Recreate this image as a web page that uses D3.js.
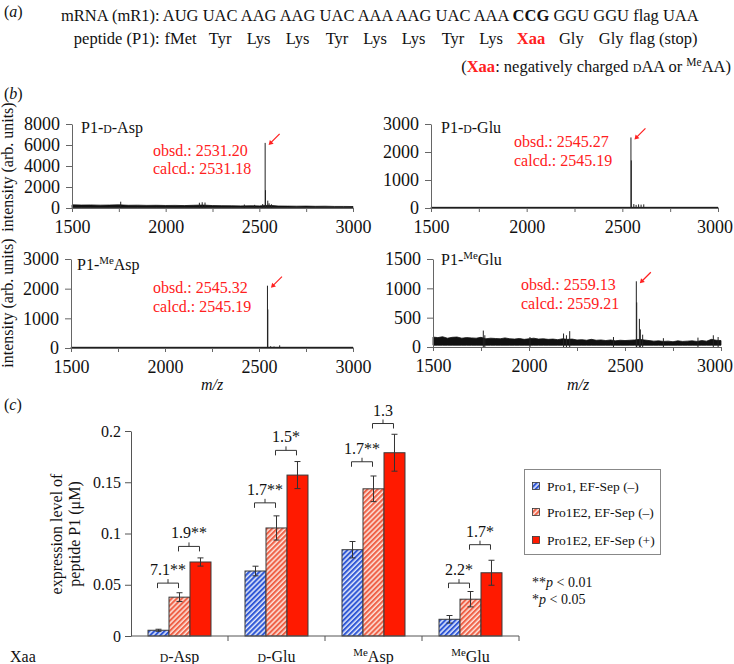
<!DOCTYPE html>
<html><head><meta charset="utf-8">
<script src="https://cdn.jsdelivr.net/npm/d3@7"></script>
<style>
body{margin:0;background:#fff}
svg{display:block}
text{font-family:"Liberation Serif","DejaVu Serif",serif;fill:#111}
</style>
</head><body>
<svg id="c" width="734" height="664"></svg>
<script>
// ================= DATA =================
// panel (a)
const codons = ["AUG","UAC","AAG","AAG","UAC","AAA","AAG","UAC","AAA","CCG","GGU","GGU","flag","UAA"];
const residues = ["fMet","Tyr","Lys","Lys","Tyr","Lys","Lys","Tyr","Lys","Xaa","Gly","Gly","flag (stop)"];
const xaaIndex = 9;

// panel (b) spectra
const mzTicks = [1500,1750,2000,2250,2500,2750,3000];
const mzLabels = [1500,2000,2500,3000];
const specTitleMod = ["D","D","Me","Me"];
const specTitleBase = ["-Asp","-Glu","Asp","Glu"];
const specModType = ["sc","sc","sup","sup"];
const obsdVals = ["2531.20","2545.27","2545.32","2559.13"];
const calcdVals = ["2531.18","2545.19","2545.19","2559.21"];
const specYMax = [8000,3000,3000,1500];
const specYTicks = [[0,2000,4000,6000,8000],[0,1000,2000,3000],[0,1000,2000,3000],[0,500,1000,1500]];

const gridCoarse = [1500,1750,2000,2250,2500,2750,3000];
const grid50 = [1500,1550,1600,1650,1700,1750,1800,1850,1900,1950,2000,2050,2100,2150,2200,2250,2300,2350,2400,2450,2500,2550,2600,2650,2700,2750,2800,2850,2900,2950,3000];
const grid25 = [1500,1525,1550,1575,1600,1625,1650,1675,1700,1725,1750,1775,1800,1825,1850,1875,1900,1925,1950,1975,2000,2025,2050,2075,2100,2125,2150,2175,2200,2225,2250,2275,2300,2325,2350,2375,2400,2425,2450,2475,2500,2525,2550,2575,2600,2625,2650,2675,2700,2725,2750,2775,2800,2825,2850,2875,2900,2925,2950,2975,3000];

const dAspNoise = [300,280,290,270,280,300,260,270,250,260,240,250,230,260,280,230,220,210,200,210,200,260,190,180,170,180,160,170,150,150,140];
const dGluNoise = [25,25,25,25,25,25,25];
const meAspNoise = [25,25,25,25,25,25,25];
const meGluNoise = [170,160,175,150,165,170,150,160,155,150,165,140,150,145,140,155,140,135,145,130,140,150,135,140,130,135,125,140,130,135,120,125,115,130,115,120,110,120,105,115,110,115,120,130,120,110,100,105,95,100,90,105,95,100,105,95,110,100,130,115,110];
const noiseFloor = [20,0,0,30];

const dAspPeaks = [[1760,600],[2180,500],[2195,550],[2210,520],[2420,330],[2475,300],[2518,380],[2531,6200],[2533,1700],[2545,700],[2552,450],[2565,350]];
const dGluPeaks = [[2545,2520],[2547,1700],[2560,140],[2572,110],[2585,130],[2598,120],[2612,130]];
const meAspPeaks = [[2545,2100],[2547,1300],[2562,60],[2580,50],[2610,90]];
const meGluPeaks = [[1762,280],[1770,200],[2005,170],[2180,230],[2195,200],[2212,270],[2440,170],[2559,1120],[2561,760],[2575,480],[2580,300],[2592,210],[2700,150],[2880,160],[2960,200],[2985,170]];
const mainPeak = [[2531,6200],[2545,2520],[2545,2100],[2559,1120]];

// panel (c) bar chart
const catMod = ["D","D","Me","Me"];
const catBase = ["-Asp","-Glu","Asp","Glu"];
const catModType = ["sc","sc","sup","sup"];
const seriesNames = ["Pro1, EF-Sep (\u2013)","Pro1E2, EF-Sep (\u2013)","Pro1E2, EF-Sep (+)"];
const pro1Vals   = [0.0056,0.0634,0.0842,0.0163];
const pro1Err    = [0.0010,0.0047,0.0080,0.0037];
const pro1E2Vals = [0.0379,0.1054,0.1436,0.0359];
const pro1E2Err  = [0.0043,0.0118,0.0125,0.0075];
const sepVals    = [0.0722,0.1570,0.1788,0.0617];
const sepErr     = [0.0040,0.0132,0.0180,0.0122];
const yTicksC = [0,0.05,0.1,0.15,0.2];
const bracketCat   = [0,0,1,1,2,2,3,3];
const bracketFrom  = [0,1,0,1,0,1,0,1];
const bracketLevel = [0.0516,0.0874,0.1299,0.1811,0.1700,0.2073,0.0516,0.0891];
const bracketText  = ["7.1**","1.9**","1.7**","1.5*","1.7**","1.3","2.2*","1.7*"];

// ================= DRAW =================
const svg = d3.select("#c");
const defs = svg.append("defs");
function hatch(id,bg,fg){
  const p = defs.append("pattern").attr("id",id).attr("patternUnits","userSpaceOnUse")
    .attr("width",3.6).attr("height",3.6).attr("patternTransform","rotate(45)");
  p.append("rect").attr("width",3.6).attr("height",3.6).attr("fill",bg);
  p.append("rect").attr("width",2.1).attr("height",3.6).attr("fill",fg);
}
hatch("hBlue","#e3e9fb","#3159d6");
hatch("hPink","#fde3dc","#ef6248");
const fills = ["url(#hBlue)","url(#hPink)","#ff1a00"];
const RED = "#ff2020";

function modText(sel, mod, type, size){
  if(type==="sc") sel.append("tspan").style("font-size",(size*0.74)+"px").text(mod);
  else {
    sel.append("tspan").attr("dy",-size*0.38).style("font-size",(size*0.68)+"px").text(mod);
  }
}
function afterMod(sel, txt, type, size){
  const t = sel.append("tspan").text(txt);
  if(type==="sup") t.attr("dy",size*0.38);
}

// ---- panel labels
function panelLabel(x,y,l){
  const t = svg.append("text").attr("x",x).attr("y",y).style("font-size","16px");
  t.append("tspan").text("(");
  t.append("tspan").style("font-style","italic").text(l);
  t.append("tspan").text(")");
}
panelLabel(4,17,"a");
panelLabel(4,99,"b");
panelLabel(4,410,"c");

// ---- panel (a)
const FA = 16.5;
const t1 = svg.append("text").attr("x",61).attr("y",21).style("font-size",FA+"px").style("white-space","pre");
const head1 = t1.append("tspan").text("mRNA (mR1):");
t1.append("tspan").text(" ");
const codonSpans = codons.map((c,i)=>{
  const s = t1.append("tspan").text(c);
  if(i===xaaIndex) s.style("font-weight","bold");
  if(i<codons.length-1) t1.append("tspan").text(" ");
  return s;
});
const centers = codonSpans.map(s=>{
  const n = s.node();
  return n.getStartPositionOfChar(0).x + n.getComputedTextLength()/2;
});
const headEnd = head1.node().getStartPositionOfChar(0).x + head1.node().getComputedTextLength();
svg.append("text").attr("x",headEnd).attr("y",44).attr("text-anchor","end").style("font-size",FA+"px").text("peptide (P1):");
residues.forEach((r,i)=>{
  const cx = i<12 ? centers[i] : (centers[12]+centers[13])/2;
  const t = svg.append("text").attr("x",cx).attr("y",44).attr("text-anchor","middle").style("font-size",FA+"px").text(r);
  if(i===xaaIndex) t.style("font-weight","bold").style("fill",RED);
});
{
  const t = svg.append("text").attr("x",731).attr("y",72).attr("text-anchor","end").style("font-size",FA+"px").style("white-space","pre");
  t.append("tspan").text("(");
  t.append("tspan").style("font-weight","bold").style("fill",RED).text("Xaa");
  t.append("tspan").text(": negatively charged ");
  t.append("tspan").style("font-size","12px").text("D");
  t.append("tspan").text("AA or ");
  t.append("tspan").attr("dy",-6).style("font-size","11.5px").text("Me");
  t.append("tspan").attr("dy",6).text("AA)");
}

// ---- panel (b)
const specLayout = [
  {x0:72,x1:353,yb:208,yt:124,tx:81,ty:133,ax:81,ay:31.7},
  {x0:431,x1:718,yb:208,yt:124,tx:441,ty:133,ax:83,ay:23.3},
  {x0:71,x1:353,yb:348,yt:259,tx:77,ty:270,ax:82,ay:34.3},
  {x0:433,x1:721,yb:347,yt:259,tx:441,ty:265,ax:88,ay:31}
];
const specNoise = [[grid50,dAspNoise],[gridCoarse,dGluNoise],[gridCoarse,meAspNoise],[grid25,meGluNoise]];
const specPeaks = [dAspPeaks,dGluPeaks,meAspPeaks,meGluPeaks];

specLayout.forEach((L,k)=>{
  const g = svg.append("g");
  const x = d3.scaleLinear().domain([1500,3000]).range([L.x0,L.x1]);
  const y = d3.scaleLinear().domain([0,specYMax[k]]).range([L.yb,L.yt]);
  // noise band
  const [gx,gv] = specNoise[k];
  const pts = gx.map((m,i)=>[m,gv[i]]);
  g.append("path").datum(pts)
    .attr("d", d3.area().x(d=>x(d[0])).y0(y(noiseFloor[k])).y1(d=>y(d[1])))
    .attr("fill","#111").attr("stroke","#111").attr("stroke-width",0.8);
  // peaks
  g.selectAll("line.pk").data(specPeaks[k]).join("line")
    .attr("x1",d=>x(d[0])).attr("x2",d=>x(d[0]))
    .attr("y1",y(0)).attr("y2",d=>y(d[1]))
    .attr("stroke","#222").attr("stroke-width",1);
  // axes
  const ax = g.append("g").attr("transform",`translate(0,${L.yb})`)
    .call(d3.axisBottom(x).tickValues(mzTicks).tickSize(4).tickSizeOuter(0).tickPadding(8)
      .tickFormat(d=> mzLabels.includes(d) ? d : ""));
  const ay = g.append("g").attr("transform",`translate(${L.x0},0)`)
    .call(d3.axisLeft(y).tickValues(specYTicks[k]).tickSize(6).tickSizeOuter(0).tickPadding(6).tickFormat(d3.format("d")));
  [ax,ay].forEach(a=>{
    a.select(".domain").attr("stroke","#666");
    a.selectAll(".tick line").attr("stroke","#666");
    a.selectAll(".tick text").style("font-family","Liberation Serif").style("font-size","18px").attr("fill","#111");
  });
  // keep the last m/z label inside the page
  ax.selectAll(".tick text").each(function(){
    const n = this, bb = n.getBBox();
    const ctm = n.getCTM();
    const right = ctm.e + bb.x + bb.width;
    if(right > 733) d3.select(n).attr("dx", (733-right)+"px");
  });
  // title
  const tt = g.append("text").attr("x",L.tx).attr("y",L.ty).style("font-size","16px");
  tt.append("tspan").text("P1-");
  modText(tt, specTitleMod[k], specModType[k], 16);
  afterMod(tt, specTitleBase[k], specModType[k], 16);
  // annotation
  g.append("text").attr("x",L.x0+L.ax).attr("y",L.yt+L.ay).style("font-size","16px").style("fill",RED).text("obsd.: "+obsdVals[k]);
  g.append("text").attr("x",L.x0+L.ax).attr("y",L.yt+L.ay+18.7).style("font-size","16px").style("fill",RED).text("calcd.: "+calcdVals[k]);
  // arrow
  const px = x(mainPeak[k][0]) + 3.5, py = Math.max(y(mainPeak[k][1]) + 2, L.yt);
  const tx = px + 11, ty = py - 11;
  g.append("line").attr("x1",tx).attr("y1",ty).attr("x2",px+2.5).attr("y2",py-2.5).attr("stroke",RED).attr("stroke-width",1.2);
  g.append("path").attr("d",`M${px},${py} L${px+1.2},${py-5} L${px+5},${py-1.2} Z`).attr("fill",RED);
});
// y labels and m/z labels
[167,303].forEach(cy=>{
  svg.append("text").attr("transform",`translate(13,${cy}) rotate(-90)`).attr("text-anchor","middle").style("font-size","16px").text("intensity (arb. units)");
});
[212,578].forEach(cx=>{
  svg.append("text").attr("x",cx).attr("y",390).attr("text-anchor","middle").style("font-size","16px").style("font-style","italic").text("m/z");
});

// ---- panel (c)
const cats = [0,1,2,3];
const xC = d3.scaleBand().domain(cats).range([131,519]).paddingInner(0).paddingOuter(0);
const xS = d3.scaleBand().domain([0,1,2]).range([0,xC.bandwidth()]).paddingInner(0).paddingOuter(0.81);
const yC = d3.scaleLinear().domain([0,0.2]).range([636,431]);
const seriesVals = [pro1Vals,pro1E2Vals,sepVals];
const seriesErr = [pro1Err,pro1E2Err,sepErr];
const gc = svg.append("g");
seriesVals.forEach((vals,s)=>{
  gc.selectAll(null).data(cats).join("rect")
    .attr("x",c=>xC(c)+xS(s)).attr("width",xS.bandwidth())
    .attr("y",c=>yC(vals[c])).attr("height",c=>yC(0)-yC(vals[c]))
    .attr("fill",fills[s]).attr("stroke","#3a3a3a").attr("stroke-width",1);
});
seriesVals.forEach((vals,s)=>{
  cats.forEach(c=>{
    const cx = xC(c)+xS(s)+xS.bandwidth()/2;
    const lo = yC(vals[c]-seriesErr[s][c]), hi = yC(vals[c]+seriesErr[s][c]);
    gc.append("path").attr("d",`M${cx},${lo}V${hi}M${cx-3},${lo}H${cx+3}M${cx-3},${hi}H${cx+3}`)
      .attr("stroke","#333").attr("stroke-width",1).attr("fill","none");
  });
});
// brackets
bracketText.forEach((lab,i)=>{
  const c = bracketCat[i], s = bracketFrom[i];
  const x1 = xC(c)+xS(s)+xS.bandwidth()/2 - 1;
  const x2 = xC(c)+xS(s+1)+xS.bandwidth()/2 - 1;
  const yb = yC(bracketLevel[i]);
  const xm = (x1+x2)/2;
  gc.append("path").attr("d",`M${x1},${yb+5}V${yb}H${x2}V${yb+5}M${xm},${yb}V${yb-4}`)
    .attr("stroke","#333").attr("stroke-width",1).attr("fill","none");
  gc.append("text").attr("x",xm).attr("y",yb-8).attr("text-anchor","middle").style("font-size","16px").text(lab);
});
// axes
const axY = gc.append("g").attr("transform","translate(131,0)")
  .call(d3.axisLeft(yC).tickValues(yTicksC).tickSize(6).tickSizeOuter(0).tickPadding(4).tickFormat(d=>String(d)));
axY.selectAll(".tick text").style("font-family","Liberation Serif").style("font-size","16px").attr("fill","#111");
axY.select(".domain").attr("stroke","#555");
axY.selectAll(".tick line").attr("stroke","#555");
gc.append("line").attr("x1",131).attr("x2",519).attr("y1",636).attr("y2",636).attr("stroke","#555");
gc.selectAll(null).data(cats).join("line")
  .attr("x1",c=>xC(c)+xC.bandwidth()).attr("x2",c=>xC(c)+xC.bandwidth())
  .attr("y1",636).attr("y2",641).attr("stroke","#555");
// category labels
svg.append("text").attr("x",10).attr("y",662).style("font-size","16px").text("Xaa");
cats.forEach(c=>{
  const t = svg.append("text").attr("x",xC(c)+xC.bandwidth()/2).attr("y",662).attr("text-anchor","middle").style("font-size","16px");
  modText(t, catMod[c], catModType[c], 16);
  afterMod(t, catBase[c], catModType[c], 16);
});
// y label
[["expression level of",62],["peptide P1 (\u03bcM)",80]].forEach(([s,bx])=>{
  svg.append("text").attr("transform",`translate(${bx},534) rotate(-90)`).attr("text-anchor","middle").style("font-size","16px").text(s);
});
// legend
svg.append("rect").attr("x",524.5).attr("y",469.5).attr("width",136).attr("height",85).attr("fill","#fff").attr("stroke","#888").attr("stroke-width",1);
const legY = [486,512,540];
seriesNames.forEach((n,i)=>{
  svg.append("rect").attr("x",532.5).attr("y",legY[i]-3.5).attr("width",7).attr("height",7).attr("fill",fills[i]).attr("stroke","#333").attr("stroke-width",0.8);
  svg.append("text").attr("x",547).attr("y",legY[i]+5).style("font-size","13.5px").text(n);
});
// p-value note
[["**","0.01",587],["*","0.05",604]].forEach(([st,v,yy])=>{
  const t = svg.append("text").attr("x",532).attr("y",yy).style("font-size","14px");
  t.append("tspan").text(st);
  t.append("tspan").style("font-style","italic").text("p");
  t.append("tspan").text(" < "+v);
});
</script>
</body></html>
